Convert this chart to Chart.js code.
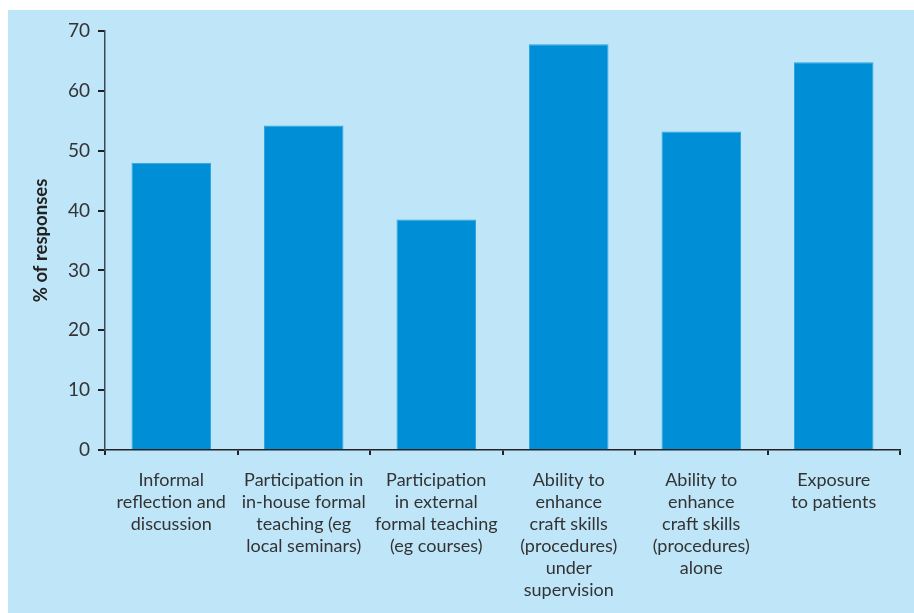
<!DOCTYPE html>
<html>
<head>
<meta charset="utf-8">
<script src="https://cdn.jsdelivr.net/npm/chart.js@4"></script>
<style>
  body { margin: 0; background: #fff; }
  #panel { position: absolute; left: 8px; top: 10px; width: 906px; height: 603px; background: #bfe6f8; }
</style>
</head>
<body>
<div id="panel"><canvas id="barChart" width="906" height="603"></canvas></div>
<script>
// Categories and values
const categories = [
  ["Informal", "reflection and", "discussion"],
  ["Participation in", "in-house formal", "teaching (eg", "local seminars)"],
  ["Participation", "in external", "formal teaching", "(eg courses)"],
  ["Ability to", "enhance", "craft skills", "(procedures)", "under", "supervision"],
  ["Ability to", "enhance", "craft skills", "(procedures)", "alone"],
  ["Exposure", "to patients"]
];
const responses = [48, 54.2, 38.5, 67.8, 53.2, 64.8];
const yTicks = [0, 10, 20, 30, 40, 50, 60, 70];

const textColor = "#333";
const fontFamily = "Lato, 'Open Sans', sans-serif";

const ctx = document.getElementById("barChart").getContext("2d");
const chart = new Chart(ctx, {
  type: "bar",
  data: {
    labels: categories,
    datasets: [
      {
        label: "% of responses",
        data: responses,
        backgroundColor: "#008fd6",
        borderColor: "#2fa4de",
        borderWidth: 1,
        categoryPercentage: 1,
        barPercentage: 0.6,
      },
    ],
  },
  options: {
    responsive: false,
    animation: false,
    layout: { padding: { left: 22, right: 14, top: 21, bottom: 0 } },
    plugins: {
      legend: { display: false },
      tooltip: { enabled: false },
    },
    scales: {
      x: {
        grid: {
          offset: true,
          drawOnChartArea: false,
          drawTicks: true,
          tickLength: 5,
          color: "#222",
          lineWidth: 2,
        },
        border: { color: "#222", width: 1.5 },
        ticks: {
          color: textColor,
          font: { family: fontFamily, size: 18, lineHeight: 1.22 },
          padding: 14,
          maxRotation: 0,
          autoSkip: false,
        },
        afterFit: (axis) => { axis.height = 163; },
      },
      y: {
        min: 0,
        max: 70,
        afterBuildTicks: (axis) => { axis.ticks = yTicks.map((v) => ({ value: v })); },
        grid: {
          drawOnChartArea: false,
          drawTicks: true,
          tickLength: 7,
          color: "#222",
          lineWidth: 2,
        },
        border: { color: "#3c4a55", width: 1.5 },
        ticks: {
          color: textColor,
          font: { family: fontFamily, size: 19 },
          padding: 8,
        },
        title: {
          display: true,
          text: "% of responses",
          color: "#222",
          font: { family: fontFamily, size: 18.5, weight: "bold" },
          padding: 0,
        },
        afterFit: (axis) => { axis.width = 75; },
      },
    },
  },
});
</script>
</body>
</html>
